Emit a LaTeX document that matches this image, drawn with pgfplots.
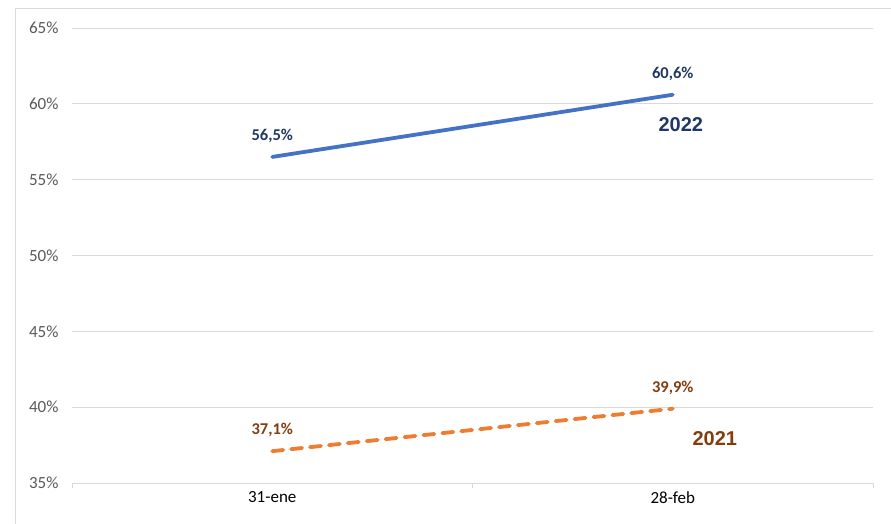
\documentclass[border=0pt]{standalone}
\usepackage{pgfplots}
\pgfplotsset{compat=1.18}
\usepackage{fontspec}
\setmainfont{Carlito}
\newfontfamily\arial{Liberation Sans}
\definecolor{gridc}{HTML}{D9D9D9}
\definecolor{tickc}{HTML}{595959}
\definecolor{blueL}{HTML}{4472C4}
\definecolor{orangeL}{HTML}{ED7D31}
\definecolor{navy}{HTML}{203864}
\definecolor{brown}{HTML}{843C0C}
\begin{document}
\begin{tikzpicture}
\useasboundingbox (0,0) rectangle (891pt,-523pt);
\draw[gridc, line width=0.8pt] (15pt,-530pt) -- (15pt,-8pt) -- (900pt,-8pt);
\begin{axis}[
  at={(72pt,-483pt)}, anchor=south west,
  scale only axis, width=801pt, height=455pt,
  xmin=-0.5, xmax=1.5, ymin=35, ymax=65,
  xtick={0,1}, xticklabels={31-ene,28-feb},
  minor xtick={-0.5,0.5,1.5},
  ytick={35,40,...,65},
  yticklabel={\pgfmathprintnumber{\tick}\%},
  /pgf/number format/assume math mode=true,
  axis lines=left, axis line style={-},
  x axis line style={draw=gridc, line width=0.8pt},
  y axis line style={draw=none},
  ymajorgrids, grid style={draw=gridc, line width=0.8pt},
  major tick length=0pt, minor tick length=5pt,
  tick align=outside,
  minor x tick style={draw=gridc, line width=0.8pt},
  ytick style={draw=none},
  x tick label style={font=\fontsize{17}{20}\selectfont, text=black, yshift=-5pt},
  y tick label style={font=\fontsize{17}{20}\selectfont, text=tickc, xshift=-10pt},
  nodes near coords={\pgfmathprintnumber[fixed,fixed zerofill,precision=1,use comma]{\pgfplotspointmeta}\%},
  point meta=y,
  clip=false,
]
\addplot[blueL, line width=3.8pt, line cap=round, mark=none,
  nodes near coords style={font=\bfseries\fontsize{16.5}{19}\selectfont, text=navy, anchor=south, yshift=9pt}]
  coordinates {(0,56.5) (1,60.6)};
\addplot[orangeL, line width=3.8pt, line cap=round, dash pattern=on 11pt off 8pt, mark=none,
  nodes near coords style={font=\bfseries\fontsize{16.5}{19}\selectfont, text=brown, anchor=south, yshift=9pt}]
  coordinates {(0,37.1) (1,39.9)};
\node[font=\arial\bfseries\fontsize{20}{24}\selectfont, text=navy] at (axis cs:1.02,58.6) {2022};
\node[font=\arial\bfseries\fontsize{20}{24}\selectfont, text=brown] at (axis cs:1.105,37.9) {2021};
\end{axis}
\end{tikzpicture}
\end{document}
